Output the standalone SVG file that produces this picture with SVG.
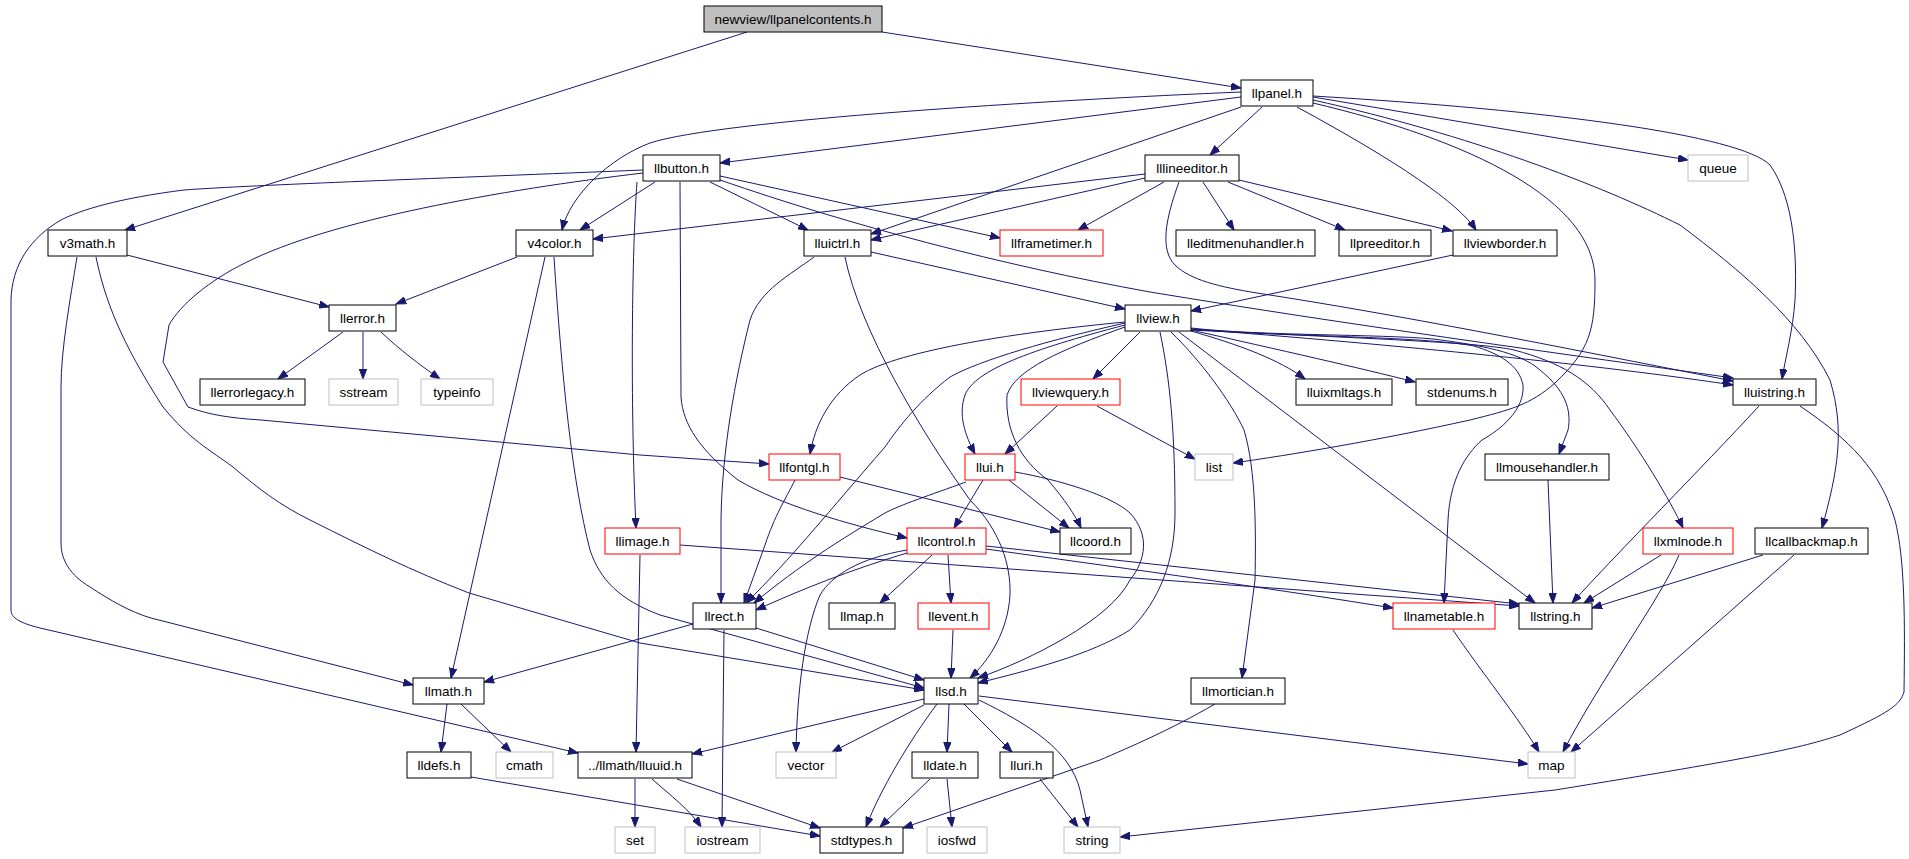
<svg xmlns="http://www.w3.org/2000/svg" width="1909" height="859" viewBox="0 0 1909 859">
<style>
rect{fill:#fff;stroke:#000;stroke-width:1}
.root rect{fill:#bfbfbf}
.red rect{stroke:#ff0000}
.grey rect{stroke:#bfbfbf}
text{font-family:"Liberation Sans",Arial,sans-serif;font-size:13.5px;fill:#000;text-anchor:middle}
#edges path{fill:none;stroke:#191970;stroke-width:1;marker-end:url(#a)}
</style>
<defs>
<marker id="a" markerWidth="11" markerHeight="8" refX="10" refY="4" orient="auto" markerUnits="userSpaceOnUse"><path d="M0,0.3 L10,4 L0,7.7 z" fill="#191970" stroke="#191970" stroke-width="1"/></marker>
</defs>
<rect x="0" y="0" width="1909" height="859" style="fill:#fff;stroke:none"/>
<g id="edges">
<path d="M747,32 L125,230"/>
<path d="M882,32 L1241,88"/>
<path d="M1241,97 L720,163"/>
<path d="M1241,92 C1050,100 720,120 650,143 C610,158 570,195 562,230"/>
<path d="M1262,107 L1210,155"/>
<path d="M1241,107 L871,234"/>
<path d="M1297,107 Q1450,190 1476,230"/>
<path d="M1313,97 L1688,160"/>
<path d="M1313,103 C1470,140 1595,200 1595,280 C1595,330 1590,350 1555,383 C1530,405 1510,410 1470,420 C1380,440 1290,455 1233,463"/>
<path d="M1313,96 C1550,110 1740,135 1770,165 C1795,200 1797,260 1795,300 C1793,330 1785,360 1782,379"/>
<path d="M1313,100 C1470,135 1600,185 1680,225 C1740,270 1800,320 1830,380 C1845,430 1838,470 1822,528"/>
<path d="M1145,174 L593,239"/>
<path d="M1145,178 L871,240"/>
<path d="M1164,182 L1078,230"/>
<path d="M1203,182 L1234,230"/>
<path d="M1228,182 L1345,230"/>
<path d="M1239,180 L1452,231"/>
<path d="M1179,182 C1165,220 1160,250 1175,265 C1190,280 1220,287 1257,293 C1400,315 1550,345 1733,381"/>
<path d="M655,182 L580,230"/>
<path d="M710,182 L808,230"/>
<path d="M720,176 L1000,238"/>
<path d="M720,180 C850,225 1000,265 1150,292 C1350,325 1550,352 1733,378"/>
<path d="M637,182 C632,250 630,400 636,528"/>
<path d="M680,182 L681,397 C683,425 700,450 738,480 C780,505 850,525 907,538"/>
<path d="M643,173 C500,190 330,220 245,263 C210,280 180,305 169,325 L163,362 L188,407 C210,415 230,418 261,420 L640,455 L769,464"/>
<path d="M643,170 C450,178 250,185 184,190 C120,198 80,210 61,220 C30,238 12,265 11,300 L11,610 C11,618 20,623 40,628 L578,753"/>
<path d="M127,255 L329,307"/>
<path d="M77,257 C70,300 61,350 61,387 L61,543 C61,560 70,575 90,587 C110,600 130,612 151,618 L413,685"/>
<path d="M96,257 C105,300 120,340 163,407 C190,440 210,450 233,467 C260,490 280,505 310,520 C370,550 410,570 469,593 L640,643 L924,690"/>
<path d="M517,257 L396,304"/>
<path d="M545,257 L451,678"/>
<path d="M554,257 C562,380 572,480 590,550 C600,580 620,600 660,615 L924,688"/>
<path d="M343,332 L278,379"/>
<path d="M363,332 L363,379"/>
<path d="M381,332 C400,350 420,365 440,379"/>
<path d="M871,252 L1125,309"/>
<path d="M814,257 C790,275 760,290 750,320 C735,380 722,450 721,520 L721,603"/>
<path d="M845,257 C860,330 920,430 970,500 C1000,530 1011,565 1010,595 C1008,630 990,660 970,678"/>
<path d="M1453,255 L1191,311"/>
<path d="M1125,322 C1020,332 900,350 860,375 C830,395 815,425 810,454"/>
<path d="M1125,323 C1050,340 980,360 950,377 C920,400 900,425 885,447 C830,510 790,560 746,603"/>
<path d="M1125,325 C1030,350 975,370 965,395 C958,415 965,435 975,454"/>
<path d="M1140,332 L1093,379"/>
<path d="M1125,327 C1060,350 1015,370 1007,395 C1005,430 1020,460 1048,480 C1065,500 1075,515 1081,528"/>
<path d="M1160,332 C1170,380 1175,430 1175,513 C1175,560 1160,600 1130,630 C1090,655 1030,670 978,683"/>
<path d="M1171,332 C1200,360 1230,400 1244,430 C1256,470 1256,530 1255,580 L1242,678"/>
<path d="M1179,332 L1535,603"/>
<path d="M1191,331 C1240,345 1280,360 1305,379"/>
<path d="M1191,330 C1280,350 1360,368 1415,382"/>
<path d="M1191,329 C1400,345 1600,365 1733,385"/>
<path d="M1191,328 C1260,336 1380,334 1433,339 C1480,345 1520,352 1540,370 C1565,390 1572,410 1568,430 L1559,454"/>
<path d="M1191,329 C1290,337 1420,336 1474,346 C1500,354 1519,365 1523,385 C1525,410 1500,430 1482,440 C1465,455 1450,480 1448,520 L1444,603"/>
<path d="M1191,330 C1350,338 1480,342 1514,350 C1560,362 1590,380 1610,410 C1640,450 1670,500 1683,528"/>
<path d="M1057,406 L1005,454"/>
<path d="M1097,406 L1195,459"/>
<path d="M795,480 C785,500 775,515 765,545 L744,603"/>
<path d="M840,477 L1060,532"/>
<path d="M966,482 C930,495 900,505 885,513 C840,540 800,565 754,603"/>
<path d="M983,480 L954,528"/>
<path d="M1009,480 L1069,528"/>
<path d="M1015,472 C1060,480 1110,495 1130,513 C1150,535 1146,560 1130,580 C1110,620 1030,660 978,678"/>
<path d="M640,555 L636,752"/>
<path d="M680,545 L1519,606"/>
<path d="M907,553 C850,570 800,590 756,610"/>
<path d="M932,555 L880,603"/>
<path d="M948,555 L951,603"/>
<path d="M907,550 C860,558 832,575 820,595 C805,630 797,690 796,752"/>
<path d="M986,546 L1519,604"/>
<path d="M986,549 C1100,565 1250,585 1393,608"/>
<path d="M693,624 L484,682"/>
<path d="M724,630 L722,827"/>
<path d="M756,628 L924,680"/>
<path d="M953,630 L951,678"/>
<path d="M924,699 L692,754"/>
<path d="M924,705 L832,752"/>
<path d="M937,704 C910,740 880,790 866,827"/>
<path d="M949,704 L947,752"/>
<path d="M964,704 L1012,752"/>
<path d="M979,700 C1030,725 1070,750 1080,790 L1088,827"/>
<path d="M979,696 L1528,764"/>
<path d="M635,779 L635,827"/>
<path d="M652,779 C670,795 690,810 701,827"/>
<path d="M677,779 L820,828"/>
<path d="M471,777 L820,836"/>
<path d="M930,779 L880,827"/>
<path d="M947,779 L952,827"/>
<path d="M1040,779 L1078,827"/>
<path d="M1215,704 C1170,730 1130,747 1100,760 L903,828"/>
<path d="M447,704 L441,752"/>
<path d="M461,704 L511,752"/>
<path d="M1759,406 C1700,470 1620,550 1572,603"/>
<path d="M1800,406 C1850,440 1880,470 1895,520 C1905,560 1905,620 1904,692 C1900,705 1890,712 1840,735 C1800,748 1760,757 1555,790 L1120,837"/>
<path d="M1548,480 L1553,603"/>
<path d="M1453,630 C1480,670 1520,720 1539,752"/>
<path d="M1661,555 L1584,603"/>
<path d="M1679,555 C1660,600 1600,680 1563,752"/>
<path d="M1763,555 L1592,608"/>
<path d="M1794,555 L1571,752"/>
</g>
<g id="newview" class="root"><rect x="704" y="6" width="178" height="26"/><text x="793" y="23.5">newview/llpanelcontents.h</text></g>
<g id="llpanel"><rect x="1241" y="80" width="72" height="26"/><text x="1277" y="97.5">llpanel.h</text></g>
<g id="llbutton"><rect x="643" y="155" width="77" height="26"/><text x="681.5" y="172.5">llbutton.h</text></g>
<g id="lllineeditor"><rect x="1145" y="155" width="94" height="26"/><text x="1192" y="172.5">lllineeditor.h</text></g>
<g id="queue" class="grey"><rect x="1688" y="155" width="60" height="26"/><text x="1718" y="172.5">queue</text></g>
<g id="v3math"><rect x="48" y="230" width="79" height="26"/><text x="87.5" y="247.5">v3math.h</text></g>
<g id="v4color"><rect x="516" y="230" width="77" height="26"/><text x="554.5" y="247.5">v4color.h</text></g>
<g id="lluictrl"><rect x="804" y="230" width="67" height="26"/><text x="837.5" y="247.5">lluictrl.h</text></g>
<g id="llframetimer" class="red"><rect x="1000" y="230" width="103" height="26"/><text x="1051.5" y="247.5">llframetimer.h</text></g>
<g id="lleditmenuhandler"><rect x="1176" y="230" width="139" height="26"/><text x="1245.5" y="247.5">lleditmenuhandler.h</text></g>
<g id="llpreeditor"><rect x="1339" y="230" width="92" height="26"/><text x="1385" y="247.5">llpreeditor.h</text></g>
<g id="llviewborder"><rect x="1453" y="230" width="104" height="26"/><text x="1505" y="247.5">llviewborder.h</text></g>
<g id="llerror"><rect x="329" y="305" width="67" height="26"/><text x="362.5" y="322.5">llerror.h</text></g>
<g id="llview"><rect x="1125" y="305" width="66" height="26"/><text x="1158" y="322.5">llview.h</text></g>
<g id="llerrorlegacy"><rect x="200" y="379" width="105" height="26"/><text x="252.5" y="396.5">llerrorlegacy.h</text></g>
<g id="sstream" class="grey"><rect x="329" y="379" width="69" height="26"/><text x="363.5" y="396.5">sstream</text></g>
<g id="typeinfo" class="grey"><rect x="421" y="379" width="72" height="26"/><text x="457" y="396.5">typeinfo</text></g>
<g id="llviewquery" class="red"><rect x="1021" y="379" width="99" height="26"/><text x="1070.5" y="396.5">llviewquery.h</text></g>
<g id="lluixmltags"><rect x="1296" y="379" width="96" height="26"/><text x="1344" y="396.5">lluixmltags.h</text></g>
<g id="stdenums"><rect x="1416" y="379" width="92" height="26"/><text x="1462" y="396.5">stdenums.h</text></g>
<g id="lluistring"><rect x="1733" y="379" width="83" height="26"/><text x="1774.5" y="396.5">lluistring.h</text></g>
<g id="llfontgl" class="red"><rect x="769" y="454" width="71" height="26"/><text x="804.5" y="471.5">llfontgl.h</text></g>
<g id="llui" class="red"><rect x="965" y="454" width="50" height="26"/><text x="990" y="471.5">llui.h</text></g>
<g id="list" class="grey"><rect x="1195" y="454" width="38" height="26"/><text x="1214" y="471.5">list</text></g>
<g id="llmousehandler"><rect x="1485" y="454" width="124" height="26"/><text x="1547" y="471.5">llmousehandler.h</text></g>
<g id="llimage" class="red"><rect x="605" y="528" width="75" height="26"/><text x="642.5" y="545.5">llimage.h</text></g>
<g id="llcontrol" class="red"><rect x="907" y="528" width="79" height="26"/><text x="946.5" y="545.5">llcontrol.h</text></g>
<g id="llcoord"><rect x="1060" y="528" width="71" height="26"/><text x="1095.5" y="545.5">llcoord.h</text></g>
<g id="llxmlnode" class="red"><rect x="1643" y="528" width="90" height="26"/><text x="1688" y="545.5">llxmlnode.h</text></g>
<g id="llcallbackmap"><rect x="1755" y="528" width="113" height="26"/><text x="1811.5" y="545.5">llcallbackmap.h</text></g>
<g id="llrect"><rect x="693" y="603" width="63" height="26"/><text x="724.5" y="620.5">llrect.h</text></g>
<g id="llmap"><rect x="829" y="603" width="66" height="26"/><text x="862" y="620.5">llmap.h</text></g>
<g id="llevent" class="red"><rect x="918" y="603" width="71" height="26"/><text x="953.5" y="620.5">llevent.h</text></g>
<g id="llnametable" class="red"><rect x="1393" y="603" width="102" height="26"/><text x="1444" y="620.5">llnametable.h</text></g>
<g id="llstring"><rect x="1519" y="603" width="73" height="26"/><text x="1555.5" y="620.5">llstring.h</text></g>
<g id="llmath"><rect x="413" y="678" width="71" height="26"/><text x="448.5" y="695.5">llmath.h</text></g>
<g id="llsd"><rect x="924" y="678" width="54" height="26"/><text x="951" y="695.5">llsd.h</text></g>
<g id="llmortician"><rect x="1191" y="678" width="94" height="26"/><text x="1238" y="695.5">llmortician.h</text></g>
<g id="lldefs"><rect x="407" y="752" width="64" height="26"/><text x="439" y="769.5">lldefs.h</text></g>
<g id="cmath" class="grey"><rect x="496" y="752" width="57" height="26"/><text x="524.5" y="769.5">cmath</text></g>
<g id="lluuid"><rect x="578" y="752" width="114" height="26"/><text x="635" y="769.5">../llmath/lluuid.h</text></g>
<g id="vector" class="grey"><rect x="776" y="752" width="60" height="26"/><text x="806" y="769.5">vector</text></g>
<g id="lldate"><rect x="912" y="752" width="66" height="26"/><text x="945" y="769.5">lldate.h</text></g>
<g id="lluri"><rect x="1000" y="752" width="53" height="26"/><text x="1026.5" y="769.5">lluri.h</text></g>
<g id="map" class="grey"><rect x="1528" y="752" width="47" height="26"/><text x="1551.5" y="769.5">map</text></g>
<g id="set" class="grey"><rect x="615" y="827" width="40" height="26"/><text x="635" y="844.5">set</text></g>
<g id="iostream" class="grey"><rect x="685" y="827" width="75" height="26"/><text x="722.5" y="844.5">iostream</text></g>
<g id="stdtypes"><rect x="820" y="827" width="83" height="26"/><text x="861.5" y="844.5">stdtypes.h</text></g>
<g id="iosfwd" class="grey"><rect x="927" y="827" width="60" height="26"/><text x="957" y="844.5">iosfwd</text></g>
<g id="string" class="grey"><rect x="1064" y="827" width="56" height="26"/><text x="1092" y="844.5">string</text></g>
</svg>
